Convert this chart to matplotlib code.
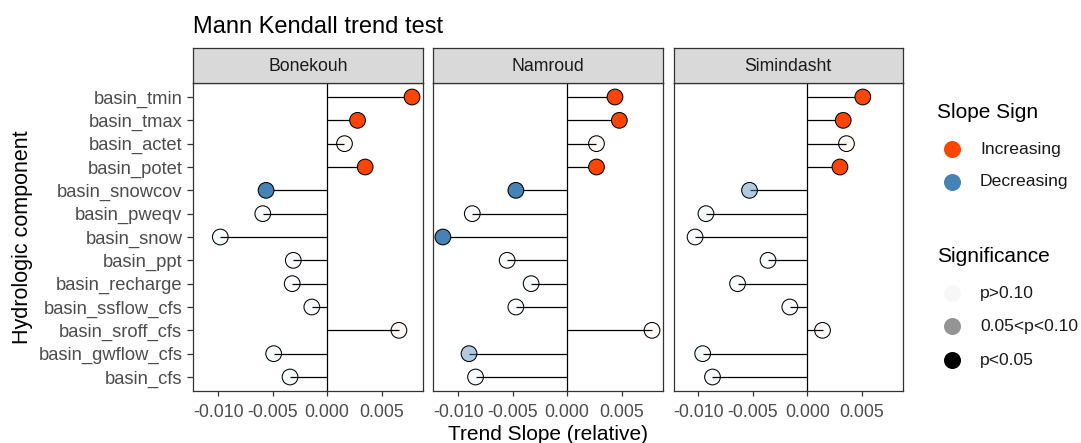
import matplotlib
matplotlib.use("Agg")
import matplotlib.pyplot as plt
from matplotlib.colors import to_rgba

plt.rcParams['font.family'] = ['Liberation Sans', 'DejaVu Sans']

# ---------------- data ----------------
components = ['basin_tmin', 'basin_tmax', 'basin_actet', 'basin_potet',
              'basin_snowcov', 'basin_pweqv', 'basin_snow', 'basin_ppt',
              'basin_recharge', 'basin_ssflow_cfs', 'basin_sroff_cfs',
              'basin_gwflow_cfs', 'basin_cfs']

basins = ['Bonekouh', 'Namroud', 'Simindasht']

bonekouh_slope = [0.0078, 0.0028, 0.0016, 0.0035, -0.0056, -0.0059, -0.0098,
                  -0.0031, -0.0032, -0.0014, 0.0066, -0.0049, -0.0034]
namroud_slope = [0.0044, 0.0048, 0.0027, 0.0027, -0.0047, -0.0087, -0.0114,
                 -0.0055, -0.0033, -0.0047, 0.0078, -0.0090, -0.0084]
simindasht_slope = [0.0051, 0.0033, 0.0036, 0.0030, -0.0053, -0.0093, -0.0103,
                    -0.0036, -0.0064, -0.0016, 0.0014, -0.0096, -0.0087]

bonekouh_sig = ['p<0.05', 'p<0.05', 'p>0.10', 'p<0.05', 'p<0.05', 'p>0.10',
                'p>0.10', 'p>0.10', 'p>0.10', 'p>0.10', 'p>0.10', 'p>0.10', 'p>0.10']
namroud_sig = ['p<0.05', 'p<0.05', 'p>0.10', 'p<0.05', 'p<0.05', 'p>0.10',
               'p<0.05', 'p>0.10', 'p>0.10', 'p>0.10', 'p>0.10', '0.05<p<0.10', 'p>0.10']
simindasht_sig = ['p<0.05', 'p<0.05', 'p>0.10', 'p<0.05', '0.05<p<0.10', 'p>0.10',
                  'p>0.10', 'p>0.10', 'p>0.10', 'p>0.10', 'p>0.10', 'p>0.10', 'p>0.10']

slopes = [bonekouh_slope, namroud_slope, simindasht_slope]
sigs = [bonekouh_sig, namroud_sig, simindasht_sig]

x_ticks = [-0.010, -0.005, 0.000, 0.005]
x_ticklabels = ['-0.010', '-0.005', '0.000', '0.005']

sign_labels = ['Increasing', 'Decreasing']
sign_colors = {'Increasing': '#FF4500', 'Decreasing': '#4682B4'}
sig_labels = ['p>0.10', '0.05<p<0.10', 'p<0.05']
sig_alpha = {'p>0.10': 0.03, '0.05<p<0.10': 0.42, 'p<0.05': 1.0}

# ---------------- figure ----------------
W, H = 1081, 443
fig = plt.figure(figsize=(W / 100, H / 100), dpi=100)

def fx(px):
    return px / W

def fy(py):
    return (H - py) / H

panel_left = [193.3, 433.3, 673.5]
panel_w = 229.5
panel_top, panel_bot = 83.0, 391.0
strip_top = 48.0

n = len(components)
ypos = list(range(n, 0, -1))

edge_grey = '#333333'
tick_grey = '#4D4D4D'

for i, b in enumerate(basins):
    ax = fig.add_axes([fx(panel_left[i]), fy(panel_bot), fx(panel_w),
                       (panel_bot - panel_top) / H])
    ax.set_xlim(-0.01228, 0.00879)
    ax.set_ylim(0.4, n + 0.6)
    ax.axvline(0, color='black', lw=0.9, zorder=1)
    ax.hlines(ypos, 0, slopes[i], color='black', lw=0.9, zorder=2)
    fcs = []
    for s, sg in zip(slopes[i], sigs[i]):
        c = sign_colors['Increasing'] if s > 0 else sign_colors['Decreasing']
        fcs.append(to_rgba(c, sig_alpha[sg]))
    ax.scatter(slopes[i], ypos, s=128, facecolors=fcs, edgecolors='black',
               linewidths=0.75, zorder=3)
    ax.set_xticks(x_ticks)
    ax.set_xticklabels(x_ticklabels)
    ax.set_yticks(ypos)
    if i == 0:
        ax.set_yticklabels(components)
    else:
        ax.set_yticklabels([])
        ax.tick_params(axis='y', length=0)
    ax.tick_params(axis='x', length=3.6, width=0.9, color=edge_grey,
                   labelsize=12.8, labelcolor=tick_grey, pad=5.5)
    if i == 0:
        ax.tick_params(axis='y', length=4.3, width=0.9, color=edge_grey,
                       labelsize=13.2, labelcolor=tick_grey, pad=3.6)
    for sp in ax.spines.values():
        sp.set_color(edge_grey)
        sp.set_linewidth(0.9)

    # strip
    sax = fig.add_axes([fx(panel_left[i]), fy(panel_top), fx(panel_w),
                        (panel_top - strip_top) / H])
    sax.set_facecolor('#D9D9D9')
    sax.set_xticks([])
    sax.set_yticks([])
    for sp in sax.spines.values():
        sp.set_color(edge_grey)
        sp.set_linewidth(0.9)
    sax.text(0.5, 0.47, b, transform=sax.transAxes, ha='center', va='center',
             fontsize=12.7, color='#1A1A1A')

# title and axis titles
fig.text(fx(192.7), fy(33), 'Mann Kendall trend test', fontsize=17,
         ha='left', va='baseline', color='black')
fig.text(fx(548), fy(440), 'Trend Slope (relative)', fontsize=15,
         ha='center', va='baseline', color='black')
fig.text(fx(23), fy(237), 'Hydrologic component', fontsize=15.5,
         ha='center', va='center', rotation=90, color='black')

# legend (manual)
lax = fig.add_axes([0, 0, 1, 1], facecolor='none')
lax.set_xlim(0, W)
lax.set_ylim(H, 0)
lax.axis('off')

lax.text(936.7, 118, 'Slope Sign', fontsize=15, ha='left', va='baseline')
for lab, yy in zip(sign_labels, [149.3, 181.7]):
    lax.scatter([951.7], [yy], s=150, color=sign_colors[lab], linewidths=0)
    lax.text(980, yy, lab, fontsize=12.6, ha='left', va='center', color='#1A1A1A')

lax.text(936.7, 261.7, 'Significance', fontsize=15, ha='left', va='baseline')
for lab, yy in zip(sig_labels, [293.3, 326.0, 360.0]):
    lax.scatter([951.7], [yy], s=150, color=to_rgba('black', sig_alpha[lab]),
                linewidths=0)
    lax.text(980, yy, lab, fontsize=12.6, ha='left', va='center', color='#1A1A1A')

fig.savefig('out.png', dpi=100)
